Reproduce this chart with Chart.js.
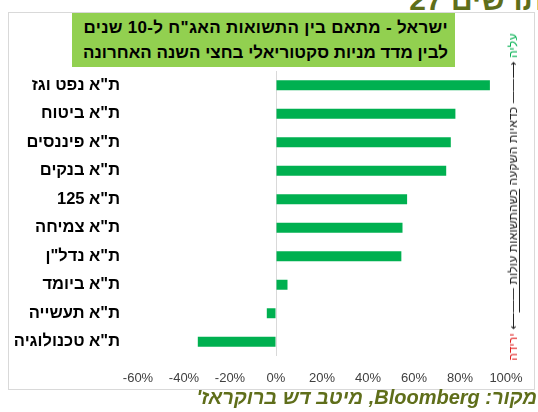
<!DOCTYPE html>
<html lang="he">
<head>
<meta charset="utf-8">
<script src="https://cdn.jsdelivr.net/npm/chart.js@4.4.1/dist/chart.umd.min.js"></script>
<style>
    body {
        margin: 0;
        background: #fff;
        font-family: Arial, "Liberation Sans", sans-serif;
    }
    #page {
        position: relative;
        width: 538px;
        height: 412px;
        overflow: hidden;
    }
    #fig-no {
        position: absolute;
        top: -17px;
        right: -6px;
        font-size: 30px;
        font-weight: bold;
        color: #5f6e1a;
        direction: rtl;
        white-space: nowrap;
    }
    #frame {
        position: absolute;
        left: 8px;
        top: 12px;
        width: 525px;
        height: 376px;
        border: 1px solid #d9d9d9;
    }
    #chart {
        position: absolute;
        left: 0;
        top: 0;
    }
    #title-box {
        position: absolute;
        left: 72px;
        top: 13px;
        width: 383px;
        height: 54px;
        background: #92d050;
        direction: rtl;
        font-size: 17px;
        font-weight: bold;
        color: #000;
        line-height: 25px;
        padding: 2px 7px 0 0;
        box-sizing: border-box;
        white-space: nowrap;
    }
    #title-box .l1 { letter-spacing: 0.3px; }
    #side-note {
        position: absolute;
        left: 513px;
        top: 197px;
        transform: translate(-50%, -50%) rotate(-90deg);
        direction: rtl;
        white-space: nowrap;
        font-size: 12px;
        color: #222;
        letter-spacing: 0.2px;
    }
    #side-note .up { color: #00b050; }
    #side-note .down { color: #e02020; }
    #side-note u { text-underline-offset: 2px; }
    #source {
        position: absolute;
        right: 1px;
        top: 386px;
        direction: rtl;
        font-size: 20px;
        font-weight: bold;
        font-style: italic;
        color: #5f6e1a;
        white-space: nowrap;
    }
</style>
</head>
<body>
<div id="page">
    <div id="fig-no">תרשים 27</div>
    <div id="frame"></div>
    <canvas id="chart" width="538" height="412"></canvas>
    <div id="title-box"><span class="l1">ישראל - מתאם בין התשואות האג"ח ל-10 שנים</span><br>לבין מדד מניות סקטוריאלי בחצי השנה האחרונה</div>
    <div id="side-note"><span class="up">עליה</span> ⟶—— כדאיות השקעה <u>כשהתשואות עולות ——</u>⟵ <span class="down">ירידה</span></div>
    <div id="source">מקור: Bloomberg, מיטב דש ברוקראז'</div>
</div>
<script>
// sector indices, top to bottom
const sectors = [
    'ת"א נפט וגז',
    'ת"א ביטוח',
    'ת"א פיננסים',
    'ת"א בנקים',
    'ת"א 125',
    'ת"א צמיחה',
    'ת"א נדל"ן',
    'ת"א ביומד',
    'ת"א תעשייה',
    'ת"א טכנולוגיה'
];

// correlation with 10y yields, in percent
const correlation = [93, 78, 76, 74, 57, 55, 54.5, 5, -4, -34];

// x axis range and step
const xMin = -60;
const xMax = 100;
const xStep = 20;

const ctx = document.getElementById('chart').getContext('2d');

new Chart(ctx, {
    type: 'bar',
    data: {
        labels: sectors,
        datasets: [{
            data: correlation,
            backgroundColor: '#00b050',
            borderWidth: 0,
            categoryPercentage: 0.7,
            barPercentage: 0.5
        }]
    },
    options: {
        indexAxis: 'y',
        responsive: false,
        animation: false,
        layout: {
            padding: { left: 0, top: 71, right: 32, bottom: 0 }
        },
        scales: {
            x: {
                min: xMin,
                max: xMax,
                border: { display: false },
                grid: {
                    drawTicks: false,
                    color: function(c) {
                        return c.tick && c.tick.value === 0 ? '#d9d9d9' : 'rgba(0,0,0,0)';
                    }
                },
                ticks: {
                    stepSize: xStep,
                    padding: 15,
                    color: '#404040',
                    font: { size: 13, family: 'Arial, "Liberation Sans", sans-serif' },
                    callback: function(value) {
                        return value + '%';
                    }
                },
                afterFit: function(scale) {
                    scale.height = 56;
                }
            },
            y: {
                border: { display: false },
                grid: { display: false, drawTicks: false },
                ticks: {
                    padding: 18,
                    color: '#000',
                    font: { size: 16.5, weight: 'bold', family: 'Arial, "Liberation Sans", sans-serif' },
                    callback: function(value) {
                        // keep hebrew labels in right-to-left order
                        return '\u202B' + this.getLabelForValue(value) + '\u202C';
                    }
                },
                afterFit: function(scale) {
                    scale.width = 138;
                }
            }
        },
        plugins: {
            legend: { display: false },
            tooltip: { enabled: false }
        }
    }
});
</script>
</body>
</html>
